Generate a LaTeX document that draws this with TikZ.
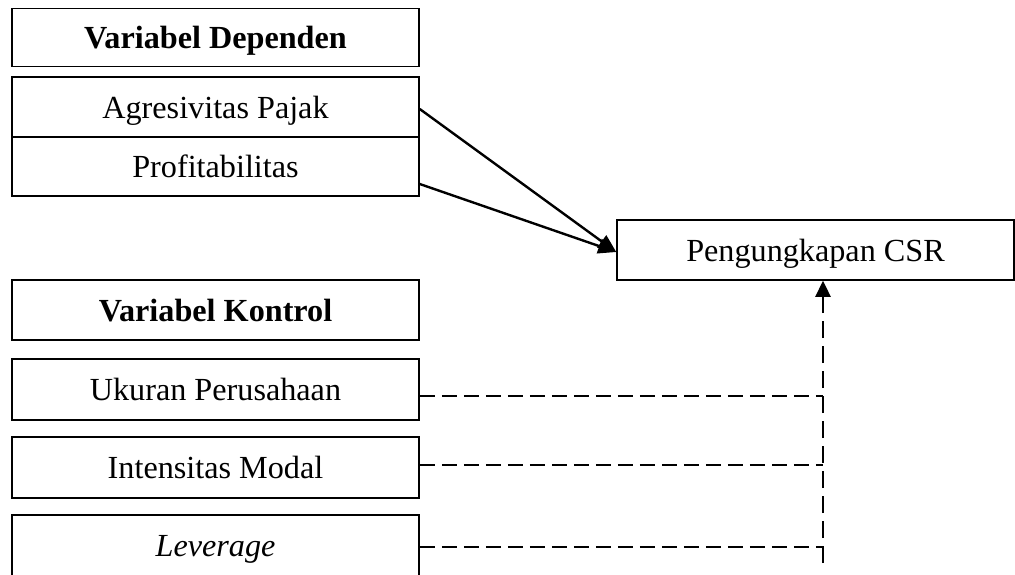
\documentclass[tikz,border=0pt]{standalone}
\usepackage{fontspec}
\setmainfont{Liberation Serif}
\usetikzlibrary{arrows.meta}
\begin{document}
\begin{tikzpicture}[x=1pt,y=-1pt,
  box/.style={draw,line width=1.5pt,inner sep=0pt,text height=22pt,text depth=0pt,font=\fontsize{32.2}{36}\selectfont},
  solidarrow/.style={line width=2.4pt,-{Triangle[length=18pt,width=15pt]}},
  dashline/.style={line width=2.4pt,dash pattern=on 15pt off 7pt},
  dasharrow/.style={line width=2.4pt,dash pattern=on 17pt off 8pt,-{Triangle[length=16pt,width=15pt]}}]
\useasboundingbox (0,0) rectangle (1015,574);
\clip (0,0) rectangle (1015,574);
\fill[white] (0,0) rectangle (1015,574);
\node[box,minimum width=407pt,minimum height=58pt] (dep) at (215.5,37.5) {\bfseries Variabel Dependen};
\node[box,minimum width=407pt,minimum height=60pt] (agr) at (215.5,107) {Agresivitas Pajak};
\node[box,minimum width=407pt,minimum height=59pt] (prof) at (215.5,166.5) {Profitabilitas};
\node[box,minimum width=397pt,minimum height=60pt] (csr) at (815.5,250) {Pengungkapan CSR};
\node[box,minimum width=407pt,minimum height=60pt] (kon) at (215.5,310) {\bfseries Variabel Kontrol};
\node[box,minimum width=407pt,minimum height=61pt] (uku) at (215.5,389.5) {Ukuran Perusahaan};
\node[box,minimum width=407pt,minimum height=61pt] (int) at (215.5,467.5) {Intensitas Modal};
\node[box,minimum width=407pt,minimum height=61pt] (lev) at (215.5,545.5) {\itshape Leverage};
\coordinate (j1) at (823,396);
\coordinate (j2) at (823,465);
\coordinate (j3) at (823,547);
\coordinate (jb) at (823,563);
\draw[solidarrow] ([yshift=-2pt]agr.east) -- ([yshift=-2pt]csr.west);
\draw[solidarrow] ([yshift=-17.5pt]prof.east) -- ([yshift=-2pt]csr.west);
\draw[dashline] ([yshift=-6.5pt]uku.east) -- (j1);
\draw[dashline] ([yshift=2.5pt]int.east) -- (j2);
\draw[dashline] ([yshift=-1.5pt]lev.east) -- (j3);
\draw[dasharrow] (jb) -- (csr.south -| jb);
\end{tikzpicture}
\end{document}
